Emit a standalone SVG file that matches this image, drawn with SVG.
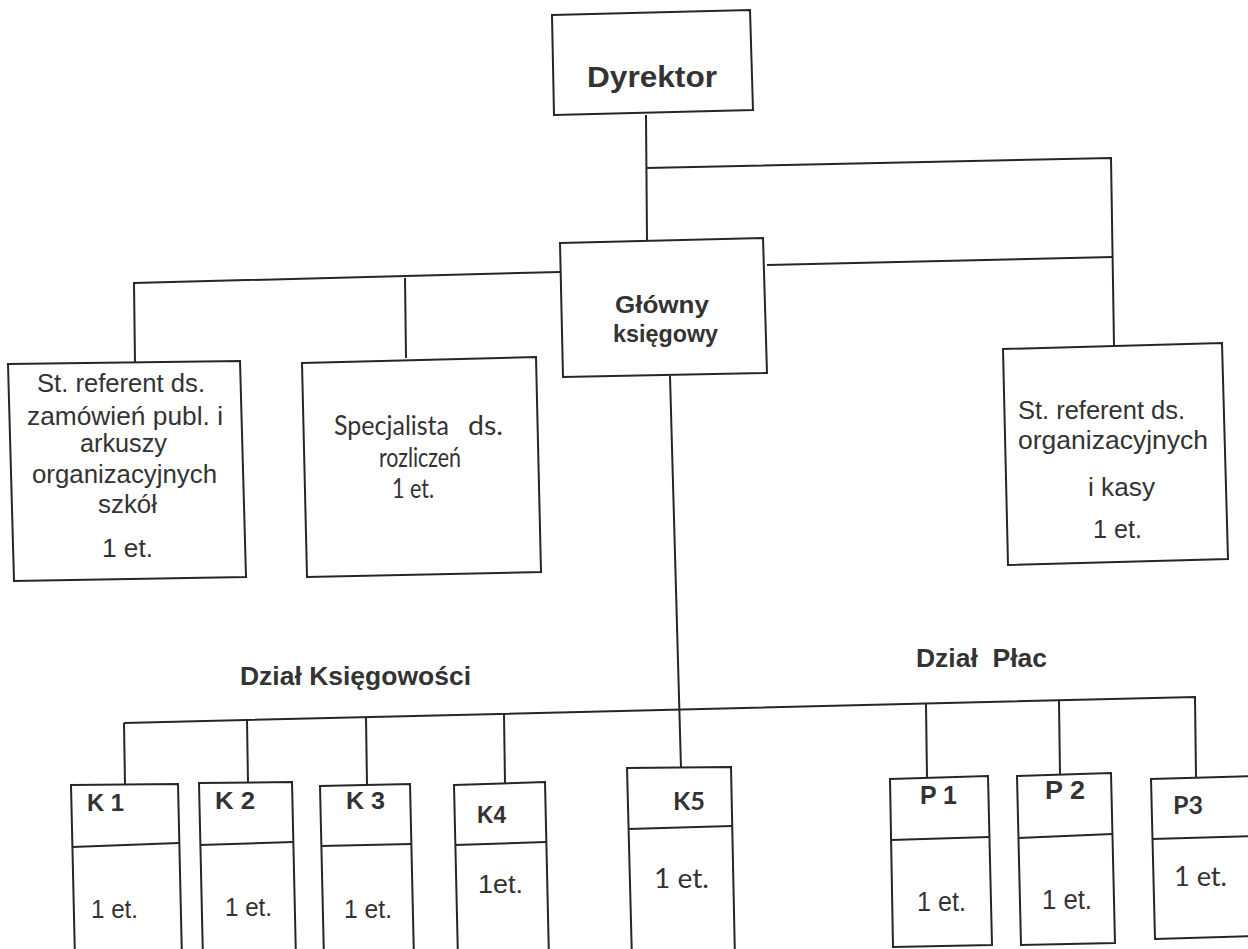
<svg xmlns="http://www.w3.org/2000/svg" width="1248" height="949" viewBox="0 0 1248 949">
<style>
.box{fill:none;stroke:#262626;stroke-width:2;stroke-linejoin:miter}
.ln{fill:none;stroke:#262626;stroke-width:2}
.a{font-family:"Liberation Sans",Arial,sans-serif;fill:#333}
.b{font-weight:bold}
.c{font-family:Lato,"Noto Sans",sans-serif;fill:#333}
.n{font-family:"Liberation Sans Narrow","Liberation Sans",Arial,sans-serif;fill:#333}
</style>
<rect width="1248" height="949" fill="#fff"/>
<g id="connectors">
<path class="ln" d="M646,115 L647,241"/>
<path class="ln" d="M646,168 L1111,158 L1114,345"/>
<path class="ln" d="M560,272 L134,283 L135,363"/>
<path class="ln" d="M405,278 L406,358"/>
<path class="ln" d="M767,265 L1113,257"/>
<path class="ln" d="M670,376 L681,768"/>
<path class="ln" d="M124,723 L1195,697 L1196,777"/>
<path class="ln" d="M124,723 L125,785"/>
<path class="ln" d="M247,720 L248,783"/>
<path class="ln" d="M366,717 L367,785"/>
<path class="ln" d="M504,714 L505,783"/>
<path class="ln" d="M926,704 L927,778"/>
<path class="ln" d="M1059,701 L1060,775"/>
</g>
<g id="dyrektor">
<polygon class="box" points="552,15 750,10 753,110 554,115"/>
<text class="a b" x="587" y="87" font-size="29" textLength="130" lengthAdjust="spacingAndGlyphs">Dyrektor</text>
</g>
<g id="glowny">
<polygon class="box" points="560,243 763,238 767,373 563,377"/>
<text class="a b" x="615" y="313" font-size="23.5" textLength="94" lengthAdjust="spacingAndGlyphs">Główny</text>
<text class="a b" x="613" y="342" font-size="23.5" textLength="105" lengthAdjust="spacingAndGlyphs">księgowy</text>
</g>
<g id="st-referent-zamowien">
<polygon class="box" points="8,364 240,361 246,577 14,581"/>
<text class="a" x="37" y="392" font-size="25" textLength="168" lengthAdjust="spacingAndGlyphs">St. referent ds.</text>
<text class="a" x="27" y="425" font-size="25" textLength="196" lengthAdjust="spacingAndGlyphs">zamówień publ. i</text>
<text class="a" x="80" y="452" font-size="25" textLength="87" lengthAdjust="spacingAndGlyphs">arkuszy</text>
<text class="a" x="32" y="483" font-size="25" textLength="185" lengthAdjust="spacingAndGlyphs">organizacyjnych</text>
<text class="a" x="98" y="513" font-size="25" textLength="59" lengthAdjust="spacingAndGlyphs">szkół</text>
<text class="a" x="102" y="557" font-size="25" textLength="51" lengthAdjust="spacingAndGlyphs">1 et.</text>
</g>
<g id="specjalista">
<polygon class="box" points="302,363 536,357 541,572 307,577"/>
<text class="c" y="435" font-size="26" xml:space="preserve"><tspan x="334" textLength="115" lengthAdjust="spacingAndGlyphs">Specjalista</tspan><tspan x="468" textLength="35" lengthAdjust="spacingAndGlyphs">ds.</tspan></text>
<text class="c" x="379" y="467" font-size="26" textLength="82" lengthAdjust="spacingAndGlyphs">rozliczeń</text>
<text class="c" x="392" y="498" font-size="26" textLength="42" lengthAdjust="spacingAndGlyphs">1 et.</text>
</g>
<g id="st-referent-organizacyjnych">
<polygon class="box" points="1003,349 1222,343 1228,559 1008,565"/>
<text class="a" x="1018" y="419" font-size="25" textLength="167" lengthAdjust="spacingAndGlyphs">St. referent ds.</text>
<text class="a" x="1018" y="449" font-size="25" textLength="190" lengthAdjust="spacingAndGlyphs">organizacyjnych</text>
<text class="a" x="1088" y="496" font-size="25" textLength="67" lengthAdjust="spacingAndGlyphs">i kasy</text>
<text class="a" x="1093" y="538" font-size="25" textLength="49" lengthAdjust="spacingAndGlyphs">1 et.</text>
</g>
<g id="dzial-ksiegowosci">
<text class="a b" x="240" y="685" font-size="25" textLength="231" lengthAdjust="spacingAndGlyphs">Dział Księgowości</text>
</g>
<g id="dzial-plac">
<text class="a b" x="916" y="667" font-size="25" textLength="131" lengthAdjust="spacingAndGlyphs" xml:space="preserve">Dział  Płac</text>
</g>
<g id="k1">
<polygon class="box" points="71,785 178,784 182,960 75,960"/>
<path class="ln" d="M72,847 L179,843"/>
<text class="a b" x="87" y="811" font-size="24" textLength="37" lengthAdjust="spacingAndGlyphs">K 1</text>
<text class="a" x="91" y="918" font-size="25" textLength="47" lengthAdjust="spacingAndGlyphs">1 et.</text>
</g>
<g id="k2">
<polygon class="box" points="199,783 292,782 296,960 203,960"/>
<path class="ln" d="M200,845 L293,842"/>
<text class="a b" x="215" y="809" font-size="24" textLength="40" lengthAdjust="spacingAndGlyphs">K 2</text>
<text class="a" x="225" y="916" font-size="25" textLength="47" lengthAdjust="spacingAndGlyphs">1 et.</text>
</g>
<g id="k3">
<polygon class="box" points="320,786 410,784 414,960 324,960"/>
<path class="ln" d="M321,846 L411,844"/>
<text class="a b" x="346" y="809" font-size="24" textLength="39" lengthAdjust="spacingAndGlyphs">K 3</text>
<text class="a" x="344" y="918" font-size="25" textLength="48" lengthAdjust="spacingAndGlyphs">1 et.</text>
</g>
<g id="k4">
<polygon class="box" points="454,785 545,782 549,960 458,960"/>
<path class="ln" d="M455,845 L546,842"/>
<text class="a b" x="477" y="823" font-size="24" textLength="29" lengthAdjust="spacingAndGlyphs">K4</text>
<text class="a" x="478" y="893" font-size="25" textLength="45" lengthAdjust="spacingAndGlyphs">1et.</text>
</g>
<g id="k5">
<polygon class="box" points="627,768 731,767 735,960 632,960"/>
<path class="ln" d="M628,829 L732,826"/>
<text class="c b" x="673" y="810" font-size="25" textLength="32" lengthAdjust="spacingAndGlyphs">K5</text>
<text class="c" x="654" y="888" font-size="27" textLength="55" lengthAdjust="spacingAndGlyphs">1 et.</text>
</g>
<g id="p1">
<polygon class="box" points="890,779 988,776 992,945 893,947"/>
<path class="ln" d="M891,840 L989,837"/>
<text class="n b" x="920" y="804" font-size="25" textLength="37" lengthAdjust="spacingAndGlyphs">P 1</text>
<text class="n" x="917" y="911" font-size="27" textLength="49" lengthAdjust="spacingAndGlyphs">1 et.</text>
</g>
<g id="p2">
<polygon class="box" points="1017,776 1111,773 1115,943 1021,945"/>
<path class="ln" d="M1018,838 L1112,834"/>
<text class="n b" x="1045" y="799" font-size="25" textLength="40" lengthAdjust="spacingAndGlyphs">P 2</text>
<text class="n" x="1042" y="909" font-size="27" textLength="50" lengthAdjust="spacingAndGlyphs">1 et.</text>
</g>
<g id="p3">
<polygon class="box" points="1151,779 1260,776 1260,936 1155,939"/>
<path class="ln" d="M1152,839 L1260,836"/>
<text class="c b" x="1173" y="814" font-size="25" textLength="30" lengthAdjust="spacingAndGlyphs">P3</text>
<text class="c" x="1174" y="886" font-size="27" textLength="53" lengthAdjust="spacingAndGlyphs">1 et.</text>
</g>
</svg>
